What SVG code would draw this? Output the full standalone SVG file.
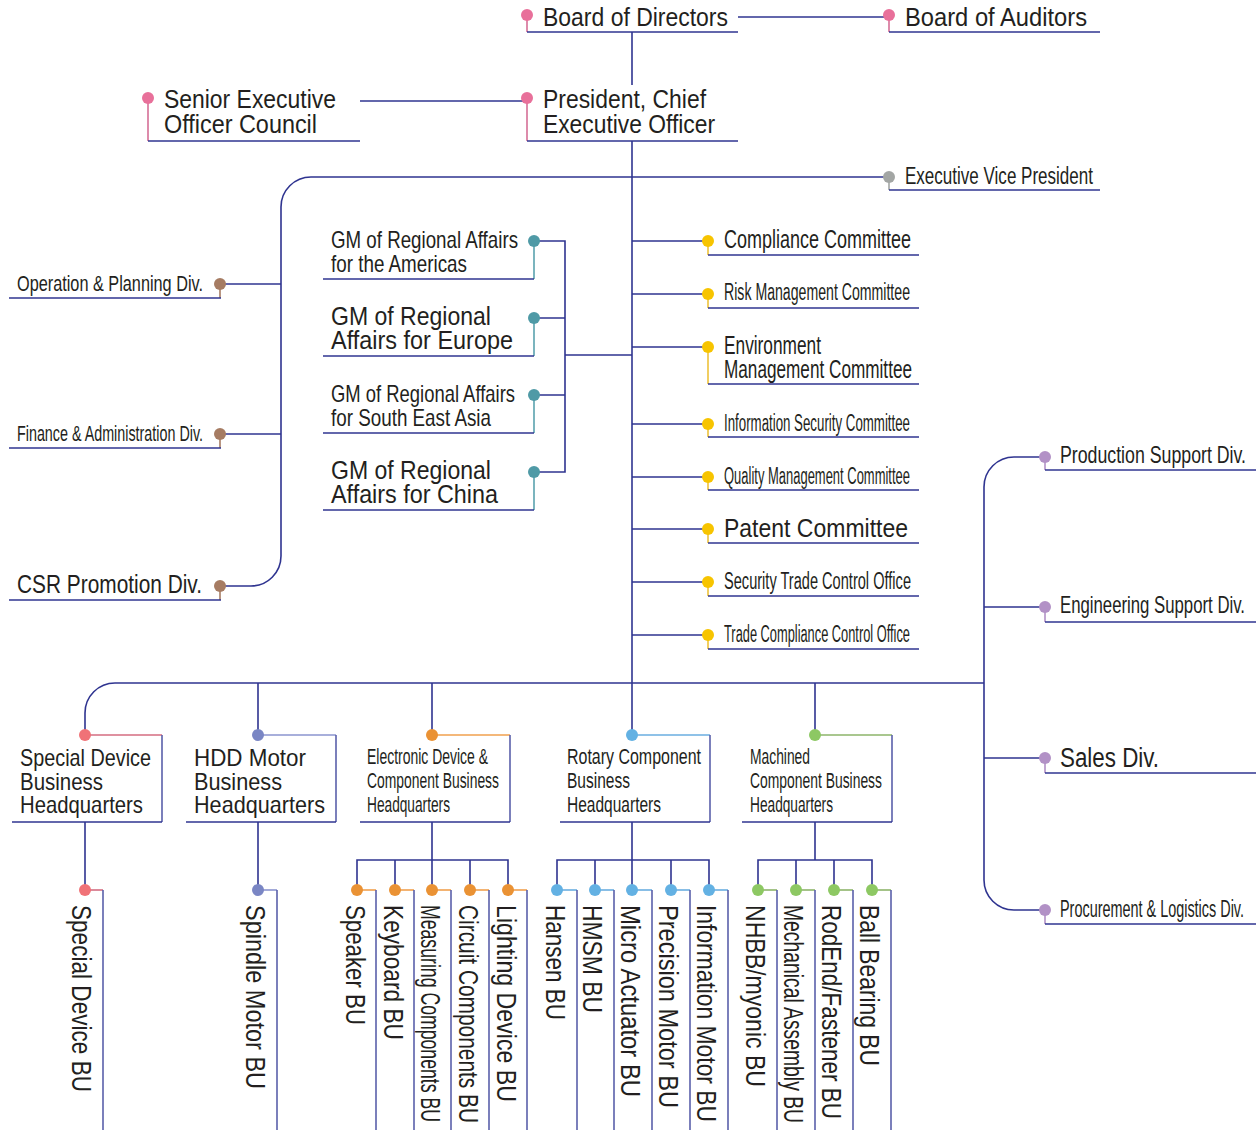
<svg xmlns="http://www.w3.org/2000/svg" width="1258" height="1130" viewBox="0 0 1258 1130">
<style>
.ln{stroke:#2f3490;stroke-width:1.6;fill:none}
.lb{stroke:#5a60aa;stroke-width:1.6;fill:none}
.t{font-family:"Liberation Sans",Arial,sans-serif;fill:#231f20}
.pk{fill:#e8709a}.pks{stroke:#d56f96;stroke-width:1.6}
.gy{fill:#a3a6a4}.gys{stroke:#a3a6a4;stroke-width:1.6}
.br{fill:#a67c63}.brs{stroke:#a67c63;stroke-width:1.6}
.tl{fill:#4f9aa6}.tls{stroke:#5aa2ae;stroke-width:1.6}
.yl{fill:#f7c400}.yls{stroke:#eec23a;stroke-width:1.6}
.lv{fill:#b291c6}.lvs{stroke:#b291c6;stroke-width:1.6}
.rd{fill:#f07277}.rds{stroke:#d46c80;stroke-width:1.6}
.pb{fill:#7a86c4}.pbs{stroke:#8b94cf;stroke-width:1.6}
.or{fill:#ea9234}.ors{stroke:#f0a04e;stroke-width:1.6}
.lb2{fill:#63b1e3}.lb2s{stroke:#6aaee0;stroke-width:1.6}
.gr{fill:#8dc863}.grs{stroke:#8db46a;stroke-width:1.6}
</style>

<g id="connectors">
<line class="ln" x1="738" y1="17" x2="889" y2="17"/>
<line class="ln" x1="632" y1="32" x2="632" y2="85"/>
<line class="ln" x1="360" y1="101" x2="527" y2="101"/>
<line class="ln" x1="632" y1="141" x2="632" y2="735"/>
<path class="ln" d="M889,177 H311 A30,30 0 0 0 281,207 V556 A30,30 0 0 1 251,586 H220"/>
<line class="ln" x1="220" y1="284" x2="281" y2="284"/>
<line class="ln" x1="220" y1="434" x2="281" y2="434"/>
<path class="ln" d="M534,241 H565 V472 H534 M534,318 H565 M534,395 H565 M565,355 H632"/>
<path class="ln" d="M632,241 H708 M632,294 H708 M632,347 H708 M632,424 H708 M632,477 H708 M632,529 H708 M632,582 H708 M632,635 H708"/>
<path class="ln" d="M85,735 V713 A30,30 0 0 1 115,683 H984"/>
<path class="ln" d="M1045,457 H1014 A30,30 0 0 0 984,487 V880 A30,30 0 0 0 1014,910 H1045"/>
<path class="ln" d="M984,607 H1045 M984,758 H1045"/>
<path class="ln" d="M258,683 V735 M432,683 V735 M815,683 V735"/>
<path class="ln" d="M85,822 V890 M258,822 V890"/>
<path class="ln" d="M432,822 V860 M357,890 V860 H508 V890 M395,860 V890 M432,860 V890 M470,860 V890"/>
<path class="ln" d="M632,822 V860 M557,890 V860 H709 V890 M595,860 V890 M632,860 V890 M671,860 V890"/>
<path class="ln" d="M815,822 V860 M758,890 V860 H872 V890 M796,860 V890 M834,860 V890"/>
</g>

<g id="board-of-directors">
<line class="pks" x1="527" y1="15" x2="527" y2="32"/>
<line class="ln" x1="527" y1="32" x2="738" y2="32"/>
<circle class="pk" cx="527" cy="15" r="6"/>
<text class="t" x="543" y="26" font-size="26" textLength="185" lengthAdjust="spacingAndGlyphs">Board of Directors</text>
</g>
<g id="board-of-auditors">
<line class="pks" x1="889" y1="15" x2="889" y2="32"/>
<line class="ln" x1="889" y1="32" x2="1100" y2="32"/>
<circle class="pk" cx="889" cy="15" r="6"/>
<text class="t" x="905" y="26" font-size="26" textLength="182" lengthAdjust="spacingAndGlyphs">Board of Auditors</text>
</g>
<g id="senior-executive-officer-council">
<line class="pks" x1="148" y1="98" x2="148" y2="141"/>
<line class="ln" x1="148" y1="141" x2="360" y2="141"/>
<circle class="pk" cx="148" cy="98" r="6"/>
<text class="t" x="164" y="108" font-size="26" textLength="172" lengthAdjust="spacingAndGlyphs">Senior Executive</text>
<text class="t" x="164" y="133" font-size="26" textLength="153" lengthAdjust="spacingAndGlyphs">Officer Council</text>
</g>
<g id="president-ceo">
<line class="pks" x1="527" y1="98" x2="527" y2="141"/>
<line class="ln" x1="527" y1="141" x2="738" y2="141"/>
<circle class="pk" cx="527" cy="98" r="6"/>
<text class="t" x="543" y="108" font-size="26" textLength="163" lengthAdjust="spacingAndGlyphs">President, Chief</text>
<text class="t" x="543" y="133" font-size="26" textLength="172" lengthAdjust="spacingAndGlyphs">Executive Officer</text>
</g>
<g id="executive-vice-president">
<line class="gys" x1="889" y1="177" x2="889" y2="190"/>
<line class="ln" x1="889" y1="190" x2="1100" y2="190"/>
<circle class="gy" cx="889" cy="177" r="6"/>
<text class="t" x="905" y="184" font-size="23" textLength="188" lengthAdjust="spacingAndGlyphs">Executive Vice President</text>
</g>

<g id="operation-planning">
<line class="brs" x1="220" y1="284" x2="220" y2="298"/>
<line class="ln" x1="9" y1="298" x2="221" y2="298"/>
<circle class="br" cx="220" cy="284" r="6"/>
<text class="t" x="17" y="291" font-size="22" textLength="186" lengthAdjust="spacingAndGlyphs">Operation &amp; Planning Div.</text>
</g>
<g id="finance-administration">
<line class="brs" x1="220" y1="434" x2="220" y2="448"/>
<line class="ln" x1="9" y1="448" x2="221" y2="448"/>
<circle class="br" cx="220" cy="434" r="6"/>
<text class="t" x="17" y="441" font-size="22" textLength="186" lengthAdjust="spacingAndGlyphs">Finance &amp; Administration Div.</text>
</g>
<g id="csr-promotion">
<line class="brs" x1="220" y1="586" x2="220" y2="600"/>
<line class="ln" x1="9" y1="600" x2="221" y2="600"/>
<circle class="br" cx="220" cy="586" r="6"/>
<text class="t" x="17" y="593" font-size="25" textLength="185" lengthAdjust="spacingAndGlyphs">CSR Promotion Div.</text>
</g>

<g id="gm-americas">
<line class="tls" x1="534" y1="241" x2="534" y2="279"/>
<line class="ln" x1="323" y1="279" x2="534" y2="279"/>
<circle class="tl" cx="534" cy="241" r="6"/>
<text class="t" x="331" y="248" font-size="24" textLength="187" lengthAdjust="spacingAndGlyphs">GM of Regional Affairs</text>
<text class="t" x="331" y="272" font-size="24" textLength="136" lengthAdjust="spacingAndGlyphs">for the Americas</text>
</g>
<g id="gm-europe">
<line class="tls" x1="534" y1="318" x2="534" y2="356"/>
<line class="ln" x1="323" y1="356" x2="534" y2="356"/>
<circle class="tl" cx="534" cy="318" r="6"/>
<text class="t" x="331" y="325" font-size="26" textLength="160" lengthAdjust="spacingAndGlyphs">GM of Regional</text>
<text class="t" x="331" y="349" font-size="26" textLength="182" lengthAdjust="spacingAndGlyphs">Affairs for Europe</text>
</g>
<g id="gm-south-east-asia">
<line class="tls" x1="534" y1="395" x2="534" y2="433"/>
<line class="ln" x1="323" y1="433" x2="534" y2="433"/>
<circle class="tl" cx="534" cy="395" r="6"/>
<text class="t" x="331" y="402" font-size="24" textLength="184" lengthAdjust="spacingAndGlyphs">GM of Regional Affairs</text>
<text class="t" x="331" y="426" font-size="24" textLength="160" lengthAdjust="spacingAndGlyphs">for South East Asia</text>
</g>
<g id="gm-china">
<line class="tls" x1="534" y1="472" x2="534" y2="510"/>
<line class="ln" x1="323" y1="510" x2="534" y2="510"/>
<circle class="tl" cx="534" cy="472" r="6"/>
<text class="t" x="331" y="479" font-size="26" textLength="160" lengthAdjust="spacingAndGlyphs">GM of Regional</text>
<text class="t" x="331" y="503" font-size="26" textLength="167" lengthAdjust="spacingAndGlyphs">Affairs for China</text>
</g>

<g id="compliance-committee">
<line class="yls" x1="708" y1="241" x2="708" y2="255"/>
<line class="ln" x1="708" y1="255" x2="919" y2="255"/>
<circle class="yl" cx="708" cy="241" r="6"/>
<text class="t" x="724" y="248" font-size="25" textLength="187" lengthAdjust="spacingAndGlyphs">Compliance Committee</text>
</g>
<g id="risk-management-committee">
<line class="yls" x1="708" y1="294" x2="708" y2="308"/>
<line class="ln" x1="708" y1="308" x2="919" y2="308"/>
<circle class="yl" cx="708" cy="294" r="6"/>
<text class="t" x="724" y="300" font-size="23" textLength="186" lengthAdjust="spacingAndGlyphs">Risk Management Committee</text>
</g>
<g id="environment-management-committee">
<line class="yls" x1="708" y1="347" x2="708" y2="384"/>
<line class="ln" x1="708" y1="384" x2="919" y2="384"/>
<circle class="yl" cx="708" cy="347" r="6"/>
<text class="t" x="724" y="354" font-size="25" textLength="97" lengthAdjust="spacingAndGlyphs">Environment</text>
<text class="t" x="724" y="378" font-size="25" textLength="188" lengthAdjust="spacingAndGlyphs">Management Committee</text>
</g>
<g id="information-security-committee">
<line class="yls" x1="708" y1="424" x2="708" y2="437"/>
<line class="ln" x1="708" y1="437" x2="919" y2="437"/>
<circle class="yl" cx="708" cy="424" r="6"/>
<text class="t" x="724" y="431" font-size="23" textLength="186" lengthAdjust="spacingAndGlyphs">Information Security Committee</text>
</g>
<g id="quality-management-committee">
<line class="yls" x1="708" y1="477" x2="708" y2="490"/>
<line class="ln" x1="708" y1="490" x2="919" y2="490"/>
<circle class="yl" cx="708" cy="477" r="6"/>
<text class="t" x="724" y="484" font-size="23" textLength="186" lengthAdjust="spacingAndGlyphs">Quality Management Committee</text>
</g>
<g id="patent-committee">
<line class="yls" x1="708" y1="529" x2="708" y2="543"/>
<line class="ln" x1="708" y1="543" x2="919" y2="543"/>
<circle class="yl" cx="708" cy="529" r="6"/>
<text class="t" x="724" y="537" font-size="26" textLength="184" lengthAdjust="spacingAndGlyphs">Patent Committee</text>
</g>
<g id="security-trade-control-office">
<line class="yls" x1="708" y1="582" x2="708" y2="596"/>
<line class="ln" x1="708" y1="596" x2="919" y2="596"/>
<circle class="yl" cx="708" cy="582" r="6"/>
<text class="t" x="724" y="589" font-size="23" textLength="187" lengthAdjust="spacingAndGlyphs">Security Trade Control Office</text>
</g>
<g id="trade-compliance-control-office">
<line class="yls" x1="708" y1="635" x2="708" y2="649"/>
<line class="ln" x1="708" y1="649" x2="919" y2="649"/>
<circle class="yl" cx="708" cy="635" r="6"/>
<text class="t" x="724" y="642" font-size="23" textLength="186" lengthAdjust="spacingAndGlyphs">Trade Compliance Control Office</text>
</g>

<g id="production-support">
<line class="lvs" x1="1045" y1="457" x2="1045" y2="470"/>
<line class="ln" x1="1045" y1="470" x2="1256" y2="470"/>
<circle class="lv" cx="1045" cy="457" r="6"/>
<text class="t" x="1060" y="463" font-size="24" textLength="186" lengthAdjust="spacingAndGlyphs">Production Support Div.</text>
</g>
<g id="engineering-support">
<line class="lvs" x1="1045" y1="607" x2="1045" y2="622"/>
<line class="ln" x1="1045" y1="622" x2="1256" y2="622"/>
<circle class="lv" cx="1045" cy="607" r="6"/>
<text class="t" x="1060" y="613" font-size="24" textLength="185" lengthAdjust="spacingAndGlyphs">Engineering Support Div.</text>
</g>
<g id="sales">
<line class="lvs" x1="1045" y1="758" x2="1045" y2="773"/>
<line class="ln" x1="1045" y1="773" x2="1256" y2="773"/>
<circle class="lv" cx="1045" cy="758" r="6"/>
<text class="t" x="1060" y="767" font-size="27" textLength="99" lengthAdjust="spacingAndGlyphs">Sales Div.</text>
</g>
<g id="procurement-logistics">
<line class="lvs" x1="1045" y1="910" x2="1045" y2="924"/>
<line class="ln" x1="1045" y1="924" x2="1256" y2="924"/>
<circle class="lv" cx="1045" cy="910" r="6"/>
<text class="t" x="1060" y="917" font-size="23" textLength="184" lengthAdjust="spacingAndGlyphs">Procurement &amp; Logistics Div.</text>
</g>

<g id="special-device-hq">
<line class="rds" x1="85" y1="735" x2="162" y2="735"/>
<line class="lb" x1="162" y1="735" x2="162" y2="822"/>
<line class="ln" x1="12" y1="822" x2="162" y2="822"/>
<circle class="rd" cx="85" cy="735" r="6"/>
<text class="t" x="20" y="766" font-size="24" textLength="131" lengthAdjust="spacingAndGlyphs">Special Device</text>
<text class="t" x="20" y="790" font-size="24" textLength="83" lengthAdjust="spacingAndGlyphs">Business</text>
<text class="t" x="20" y="813" font-size="24" textLength="123" lengthAdjust="spacingAndGlyphs">Headquarters</text>
</g>
<g id="hdd-motor-hq">
<line class="pbs" x1="258" y1="735" x2="336" y2="735"/>
<line class="lb" x1="336" y1="735" x2="336" y2="822"/>
<line class="ln" x1="186" y1="822" x2="336" y2="822"/>
<circle class="pb" cx="258" cy="735" r="6"/>
<text class="t" x="194" y="766" font-size="24" textLength="112" lengthAdjust="spacingAndGlyphs">HDD Motor</text>
<text class="t" x="194" y="790" font-size="24" textLength="88" lengthAdjust="spacingAndGlyphs">Business</text>
<text class="t" x="194" y="813" font-size="24" textLength="131" lengthAdjust="spacingAndGlyphs">Headquarters</text>
</g>
<g id="electronic-device-hq">
<line class="ors" x1="432" y1="735" x2="510" y2="735"/>
<line class="lb" x1="510" y1="735" x2="510" y2="822"/>
<line class="ln" x1="360" y1="822" x2="510" y2="822"/>
<circle class="or" cx="432" cy="735" r="6"/>
<text class="t" x="367" y="764" font-size="22" textLength="121" lengthAdjust="spacingAndGlyphs">Electronic Device &amp;</text>
<text class="t" x="367" y="788" font-size="22" textLength="132" lengthAdjust="spacingAndGlyphs">Component Business</text>
<text class="t" x="367" y="812" font-size="22" textLength="83" lengthAdjust="spacingAndGlyphs">Headquarters</text>
</g>
<g id="rotary-component-hq">
<line class="lb2s" x1="632" y1="735" x2="710" y2="735"/>
<line class="lb" x1="710" y1="735" x2="710" y2="822"/>
<line class="ln" x1="560" y1="822" x2="710" y2="822"/>
<circle class="lb2" cx="632" cy="735" r="6"/>
<text class="t" x="567" y="764" font-size="22" textLength="134" lengthAdjust="spacingAndGlyphs">Rotary Component</text>
<text class="t" x="567" y="788" font-size="22" textLength="63" lengthAdjust="spacingAndGlyphs">Business</text>
<text class="t" x="567" y="812" font-size="22" textLength="94" lengthAdjust="spacingAndGlyphs">Headquarters</text>
</g>
<g id="machined-component-hq">
<line class="grs" x1="815" y1="735" x2="892" y2="735"/>
<line class="lb" x1="892" y1="735" x2="892" y2="822"/>
<line class="ln" x1="742" y1="822" x2="892" y2="822"/>
<circle class="gr" cx="815" cy="735" r="6"/>
<text class="t" x="750" y="764" font-size="22" textLength="60" lengthAdjust="spacingAndGlyphs">Machined</text>
<text class="t" x="750" y="788" font-size="22" textLength="132" lengthAdjust="spacingAndGlyphs">Component Business</text>
<text class="t" x="750" y="812" font-size="22" textLength="83" lengthAdjust="spacingAndGlyphs">Headquarters</text>
</g>

<g id="special-device-bu">
<line class="rds" x1="85" y1="890" x2="103" y2="890"/><line class="lb" x1="103" y1="890" x2="103" y2="1130"/><circle class="rd" cx="85" cy="890" r="6"/>
<text class="t" transform="translate(72,905) rotate(90)" font-size="27" textLength="187" lengthAdjust="spacingAndGlyphs">Special Device BU</text>
</g>
<g id="spindle-motor-bu">
<line class="pbs" x1="258" y1="890" x2="277" y2="890"/><line class="lb" x1="277" y1="890" x2="277" y2="1130"/><circle class="pb" cx="258" cy="890" r="6"/>
<text class="t" transform="translate(246,905) rotate(90)" font-size="27" textLength="184" lengthAdjust="spacingAndGlyphs">Spindle Motor BU</text>
</g>
<g id="speaker-bu">
<line class="ors" x1="357" y1="890" x2="376" y2="890"/><line class="lb" x1="376" y1="890" x2="376" y2="1130"/><circle class="or" cx="357" cy="890" r="6"/>
<text class="t" transform="translate(346,905) rotate(90)" font-size="27" textLength="120" lengthAdjust="spacingAndGlyphs">Speaker BU</text>
</g>
<g id="keyboard-bu">
<line class="ors" x1="395" y1="890" x2="414" y2="890"/><line class="lb" x1="414" y1="890" x2="414" y2="1130"/><circle class="or" cx="395" cy="890" r="6"/>
<text class="t" transform="translate(384,905) rotate(90)" font-size="27" textLength="135" lengthAdjust="spacingAndGlyphs">Keyboard BU</text>
</g>
<g id="measuring-components-bu">
<line class="ors" x1="432" y1="890" x2="451" y2="890"/><line class="lb" x1="451" y1="890" x2="451" y2="1130"/><circle class="or" cx="432" cy="890" r="6"/>
<text class="t" transform="translate(421,905) rotate(90)" font-size="27" textLength="217" lengthAdjust="spacingAndGlyphs">Measuring Components BU</text>
</g>
<g id="circuit-components-bu">
<line class="ors" x1="470" y1="890" x2="489" y2="890"/><line class="lb" x1="489" y1="890" x2="489" y2="1130"/><circle class="or" cx="470" cy="890" r="6"/>
<text class="t" transform="translate(459,905) rotate(90)" font-size="27" textLength="218" lengthAdjust="spacingAndGlyphs">Circuit Components BU</text>
</g>
<g id="lighting-device-bu">
<line class="ors" x1="508" y1="890" x2="527" y2="890"/><line class="lb" x1="527" y1="890" x2="527" y2="1130"/><circle class="or" cx="508" cy="890" r="6"/>
<text class="t" transform="translate(497,905) rotate(90)" font-size="27" textLength="197" lengthAdjust="spacingAndGlyphs">Lighting Device BU</text>
</g>
<g id="hansen-bu">
<line class="lb2s" x1="557" y1="890" x2="577" y2="890"/><line class="lb" x1="577" y1="890" x2="577" y2="1130"/><circle class="lb2" cx="557" cy="890" r="6"/>
<text class="t" transform="translate(546,905) rotate(90)" font-size="27" textLength="115" lengthAdjust="spacingAndGlyphs">Hansen BU</text>
</g>
<g id="hmsm-bu">
<line class="lb2s" x1="595" y1="890" x2="614" y2="890"/><line class="lb" x1="614" y1="890" x2="614" y2="1130"/><circle class="lb2" cx="595" cy="890" r="6"/>
<text class="t" transform="translate(583,905) rotate(90)" font-size="27" textLength="108" lengthAdjust="spacingAndGlyphs">HMSM BU</text>
</g>
<g id="micro-actuator-bu">
<line class="lb2s" x1="632" y1="890" x2="652" y2="890"/><line class="lb" x1="652" y1="890" x2="652" y2="1130"/><circle class="lb2" cx="632" cy="890" r="6"/>
<text class="t" transform="translate(621,905) rotate(90)" font-size="27" textLength="192" lengthAdjust="spacingAndGlyphs">Micro Actuator BU</text>
</g>
<g id="precision-motor-bu">
<line class="lb2s" x1="671" y1="890" x2="690" y2="890"/><line class="lb" x1="690" y1="890" x2="690" y2="1130"/><circle class="lb2" cx="671" cy="890" r="6"/>
<text class="t" transform="translate(659,905) rotate(90)" font-size="27" textLength="203" lengthAdjust="spacingAndGlyphs">Precision Motor BU</text>
</g>
<g id="information-motor-bu">
<line class="lb2s" x1="709" y1="890" x2="728" y2="890"/><line class="lb" x1="728" y1="890" x2="728" y2="1130"/><circle class="lb2" cx="709" cy="890" r="6"/>
<text class="t" transform="translate(697,905) rotate(90)" font-size="27" textLength="217" lengthAdjust="spacingAndGlyphs">Information Motor BU</text>
</g>
<g id="nhbb-myonic-bu">
<line class="grs" x1="758" y1="890" x2="777" y2="890"/><line class="lb" x1="777" y1="890" x2="777" y2="1130"/><circle class="gr" cx="758" cy="890" r="6"/>
<text class="t" transform="translate(746,905) rotate(90)" font-size="27" textLength="182" lengthAdjust="spacingAndGlyphs">NHBB/myonic BU</text>
</g>
<g id="mechanical-assembly-bu">
<line class="grs" x1="796" y1="890" x2="815" y2="890"/><line class="lb" x1="815" y1="890" x2="815" y2="1130"/><circle class="gr" cx="796" cy="890" r="6"/>
<text class="t" transform="translate(784,905) rotate(90)" font-size="27" textLength="218" lengthAdjust="spacingAndGlyphs">Mechanical Assembly BU</text>
</g>
<g id="rodend-fastener-bu">
<line class="grs" x1="834" y1="890" x2="853" y2="890"/><line class="lb" x1="853" y1="890" x2="853" y2="1130"/><circle class="gr" cx="834" cy="890" r="6"/>
<text class="t" transform="translate(822,905) rotate(90)" font-size="27" textLength="214" lengthAdjust="spacingAndGlyphs">RodEnd/Fastener BU</text>
</g>
<g id="ball-bearing-bu">
<line class="grs" x1="872" y1="890" x2="891" y2="890"/><line class="lb" x1="891" y1="890" x2="891" y2="1130"/><circle class="gr" cx="872" cy="890" r="6"/>
<text class="t" transform="translate(860,905) rotate(90)" font-size="27" textLength="161" lengthAdjust="spacingAndGlyphs">Ball Bearing BU</text>
</g>
</svg>
